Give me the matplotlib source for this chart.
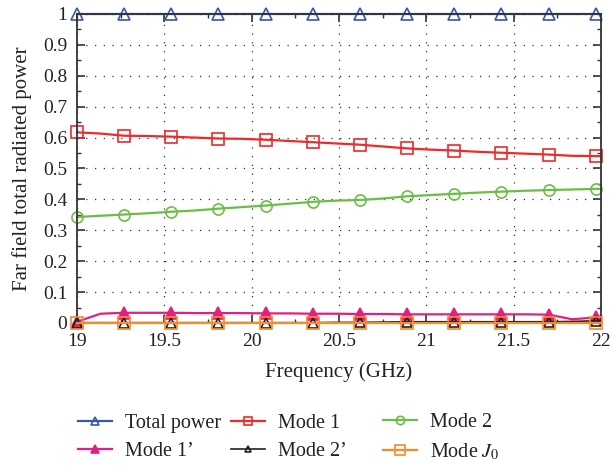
import numpy as np
import matplotlib
matplotlib.use("Agg")
import matplotlib.pyplot as plt
from matplotlib.ticker import MultipleLocator

# Frequency samples (GHz): every 0.135 GHz up to 21.97, plus the band edge
freq = list(np.round(19 + 0.135 * np.arange(23), 3)) + [22.0]

total_power = [1.0] * 24
mode1 = [0.617, 0.613, 0.606, 0.605, 0.603, 0.600, 0.597, 0.596, 0.593, 0.589,
         0.585, 0.581, 0.577, 0.571, 0.565, 0.561, 0.558, 0.554, 0.551, 0.548,
         0.545, 0.541, 0.540, 0.540]
mode2 = [0.343, 0.347, 0.351, 0.355, 0.360, 0.364, 0.370, 0.375, 0.380, 0.386,
         0.392, 0.396, 0.398, 0.403, 0.410, 0.414, 0.418, 0.422, 0.425, 0.428,
         0.430, 0.432, 0.434, 0.434]
mode1p = [0.004, 0.030, 0.033, 0.033, 0.033, 0.032, 0.032, 0.032, 0.031, 0.031,
          0.030, 0.030, 0.029, 0.029, 0.028, 0.028, 0.028, 0.028, 0.028, 0.028,
          0.027, 0.012, 0.018, 0.022]
mode2p = [0.001, 0.001, 0.001, 0.001, 0.001, 0.001, 0.001, 0.001, 0.001, 0.001,
          0.001, 0.002, 0.002, 0.003, 0.004, 0.004, 0.004, 0.004, 0.004, 0.004,
          0.004, 0.005, 0.007, 0.008]
mode_j0 = [0.0] * 24

plt.rcParams['font.family'] = ['Liberation Serif', 'DejaVu Serif']
plt.rcParams['mathtext.fontset'] = 'stix'

fig = plt.figure(figsize=(6.13, 4.66), dpi=100)
ax = fig.add_axes([0.1256, 0.3069, 0.8548, 0.6631])

common = dict(markevery=2, clip_on=False, lw=1.6, markersize=8, markeredgewidth=1.2)

h_tot, = ax.plot(freq, total_power, color='#3c55a5', marker='^', mfc='none',
                 label='Total power', **common)
h_m1, = ax.plot(freq, mode1, color='#ee2b2b', marker='s', mfc='none',
                label='Mode 1', **common)
h_m2, = ax.plot(freq, mode2, color='#6cbd45', marker='o', mfc='none',
                label='Mode 2', **common)
h_m1p, = ax.plot(freq, mode1p, color='#e0217f', marker='^', mfc='#e0217f',
                 label='Mode 1\u2019', **common)
h_m2p, = ax.plot(freq, mode2p, color='#222222', marker='^', mfc='none',
                 label='Mode 2\u2019', zorder=3.1, **dict(common, lw=1.2, markersize=6.5))
h_j0, = ax.plot(freq, mode_j0, color='#f78a2b', marker='s', mfc='none',
                label='Mode $J_0$', zorder=3.3, **dict(common, markersize=9))

ax.set_xlim(19, 22)
ax.set_ylim(0, 1)
ax.xaxis.set_minor_locator(MultipleLocator(0.25))
ax.yaxis.set_minor_locator(MultipleLocator(0.05))
ax.set_xticks([19, 19.5, 20, 20.5, 21, 21.5, 22])
ax.set_xticklabels(['19', '19.5', '20', '20.5', '21', '21.5', '22'])
ax.set_yticks(np.round(np.arange(0, 1.01, 0.1), 1))
ax.set_yticklabels(['0', '0.1', '0.2', '0.3', '0.4', '0.5', '0.6', '0.7', '0.8', '0.9', '1'])

ax.tick_params(which='both', direction='in', top=True, right=True,
               labelsize=14, color='#333333', labelcolor='#222222')
ax.tick_params(which='major', length=6, width=1.2, pad=7)
ax.tick_params(which='minor', length=3, width=1.0)
for s in ax.spines.values():
    s.set_color('#333333')
    s.set_linewidth(1.3)

ax.grid(True, which='major', color='#333333', linestyle=(0, (1, 6)), linewidth=0.9)
ax.set_axisbelow(True)

ax.set_xlabel('Frequency (GHz)', fontsize=15, labelpad=9, color='#222222')
ax.set_ylabel('Far field total radiated power', fontsize=15, labelpad=8, color='#222222')

# Legend laid out as three fixed columns below the axes
columns = [(0.127, [h_tot, h_m1p]), (0.377, [h_m1, h_m2p]), (0.625, [h_m2, h_j0])]
for x0, hs in columns:
    leg = fig.legend(handles=hs, labels=[h.get_label() for h in hs],
                     loc='center left', bbox_to_anchor=(x0, 0.061), frameon=False,
                     fontsize=14.5, handlelength=1.7, labelspacing=0.45,
                     handletextpad=0.65, markerscale=0.75, labelcolor='#222222',
                     borderpad=0, borderaxespad=0)

fig.savefig('out.png', dpi=100)
